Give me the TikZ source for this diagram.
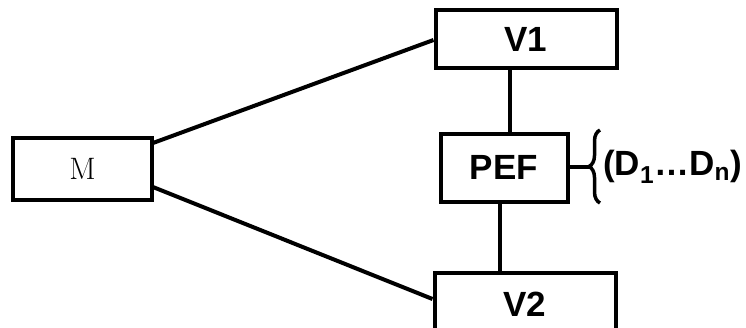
\documentclass[tikz,border=0pt]{standalone}
\usepackage{fontspec}
\setsansfont{Liberation Sans}
\usetikzlibrary{decorations.pathreplacing}
\begin{document}
\begin{tikzpicture}[x=1pt,y=-1pt,
  box/.style={draw=black,line width=4pt,fill=white,inner sep=0pt},
  conn/.style={draw=black,line width=4pt},
  lbl/.style={font=\sffamily\bfseries\fontsize{35}{40}\selectfont}]
\useasboundingbox (0,0) rectangle (746,327);
% boxes
\node[box,minimum width=139pt,minimum height=62pt,font=\fontsize{31}{34}\selectfont] (M) at (82.5,169) {M};
\node[box,minimum width=181pt,minimum height=58pt,lbl] (V1) at (526,39) {V1};
\node[box,minimum width=127pt,minimum height=68pt,lbl] (PEF) at (504,167.5) {PEF};
\node[box,minimum width=181pt,minimum height=62pt,lbl,anchor=north] (V2) at (525,271) {V2};
% connectors
\coordinate (Mt) at (153,143);
\coordinate (Mb) at (153,187);
\draw[conn] (Mt) -- (V1.west |- 0,40);
\draw[conn] (Mb) -- (V2.west |- 0,299);
\draw[conn] (V1.south -| 510,0) -- (PEF.north -| 510,0);
\draw[conn] (PEF.south -| 500,0) -- (V2.north -| 500,0);
% brace
\coordinate (bt) at (600,130);
\coordinate (bb) at (600,203);
\coordinate (bm) at (589,167);
\draw[conn] (PEF.east |- bm) -- (bm);
\draw[line width=3.5pt,decorate,decoration={brace,amplitude=11pt,aspect=0.5}] (bb) -- (bt);
\node[lbl,anchor=west,inner sep=0pt] (D) at (603,167) {(D\textsubscript{1}\ldots D\textsubscript{n})};
\end{tikzpicture}
\end{document}
